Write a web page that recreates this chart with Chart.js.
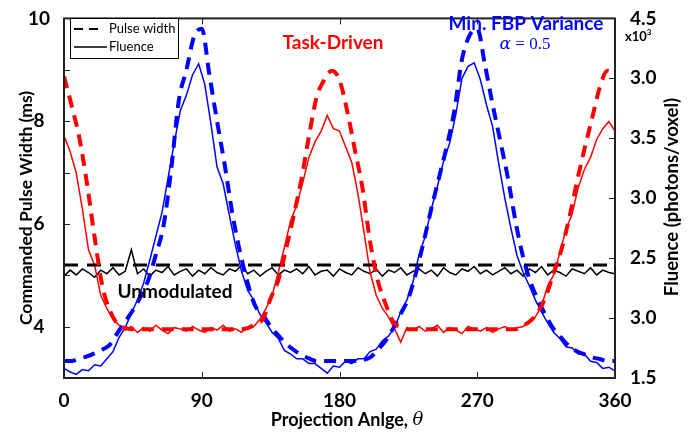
<!DOCTYPE html>
<html>
<head>
<meta charset="utf-8">
<script src="https://cdn.jsdelivr.net/npm/chart.js@4.4.1/dist/chart.umd.min.js"></script>
<style>
  html, body { margin: 0; padding: 0; background: #fff; }
  #wrap { width: 697px; height: 437px; position: relative; }
</style>
</head>
<body>
<div id="wrap"><canvas id="pulseChart"></canvas></div>
<script>
// projection angles (deg)
const anglesPulse = [0,5,10,15,20,25,30,35,40,45,50,55,60,65,70,75,80,85,90,95,100,105,110,115,120,125,130,135,140,145,150,155,160,165,170,175,180,185,190,195,200,205,210,215,220,225,230,235,240,245,250,255,260,265,270,275,280,285,290,295,300,305,310,315,320,325,330,335,340,345,350,355,360];
const anglesFluence = [0,4,8,12,16,20,24,28,32,36,40,44,48,52,56,60,64,68,72,76,80,84,88,92,96,100,104,108,112,116,120,124,128,132,136,140,144,148,152,156,160,164,168,172,176,180,184,188,192,196,200,204,208,212,216,220,224,228,232,236,240,244,248,252,256,260,264,268,272,276,280,284,288,292,296,300,304,308,312,316,320,324,328,332,336,340,344,348,352,356,360];
const anglesUnmod = [0, 360];

// commanded pulse width (ms)
const pulseTaskDriven = [8.87,8.30,7.68,6.79,5.74,4.80,4.31,4.05,3.97,
  3.95,3.95,3.95,3.95,3.95,3.95,3.95,3.95,3.95,3.95,3.95,3.95,3.95,3.95,3.95,
  3.97,4.05,4.15,4.55,4.90,5.50,6.15,6.85,7.70,8.46,8.80,8.98,8.80,8.20,7.45,6.70,5.65,4.90,4.45,4.10,3.98,
  3.95,3.95,3.95,3.95,3.95,3.95,3.95,3.95,3.95,3.95,3.95,3.95,3.95,3.95,3.95,
  4.02,4.12,4.30,4.60,5.05,5.50,6.10,6.80,7.45,8.05,8.65,8.98,8.92];
const pulseMinVar = [3.33,3.33,3.38,3.42,3.48,3.55,3.65,3.88,4.10,4.32,4.58,4.90,5.40,5.96,7.05,8.40,9.00,9.65,9.80,
  8.90,8.00,7.15,6.20,5.45,4.85,4.40,4.23,4.00,3.83,3.67,3.55,3.45,3.38,3.33,3.33,3.33,3.33,3.33,3.33,3.35,
  3.40,3.55,3.72,3.96,4.25,4.55,5.05,5.65,6.30,6.90,7.50,8.20,9.20,9.67,9.80,
  9.10,8.33,7.62,6.90,6.05,5.35,4.85,4.50,4.20,3.95,3.78,3.62,3.52,3.46,3.40,3.37,3.33,3.33];
const pulseUnmod = [5.2, 5.2];

// fluence (x10^3 photons/voxel)
const fluenceTaskDriven = [3.52,3.39,3.21,2.91,2.57,2.44,2.19,2.08,1.99,1.94,
  1.90,1.93,1.88,1.92,1.89,1.94,1.90,1.87,1.92,1.91,1.89,1.93,1.90,1.88,1.92,1.90,1.94,1.89,1.91,1.88,1.92,
  1.93,1.99,2.08,2.19,2.38,2.59,2.81,2.94,3.13,3.34,3.47,3.56,3.69,3.58,3.56,3.43,3.30,3.04,2.72,2.38,2.19,2.08,2.01,1.91,1.80,
  1.92,1.90,1.93,1.89,1.91,1.94,1.88,1.92,1.90,1.87,1.93,1.91,1.89,1.92,1.88,1.91,1.93,1.90,1.92,
  1.93,1.97,2.01,2.10,2.27,2.36,2.55,2.74,2.87,3.09,3.24,3.34,3.49,3.58,3.64,3.56];
const fluenceMinVar = [1.58,1.55,1.53,1.57,1.56,1.61,1.60,1.66,1.72,1.84,1.92,2.04,2.15,2.29,2.48,2.68,2.88,3.17,3.46,3.73,
  3.86,4.03,4.12,3.95,3.62,3.26,3.12,2.86,2.61,2.39,2.23,2.15,2.03,1.96,1.88,1.83,1.73,1.70,1.66,1.66,
  1.62,1.62,1.58,1.54,1.60,1.59,1.64,1.62,1.66,1.66,1.72,1.74,1.81,1.85,1.92,2.05,2.15,2.30,2.53,2.68,
  2.91,3.10,3.31,3.46,3.70,4.00,4.10,4.13,3.99,3.78,3.60,3.29,3.00,2.75,2.52,2.38,2.27,2.15,2.05,1.96,
  1.88,1.83,1.76,1.75,1.70,1.70,1.64,1.63,1.58,1.59,1.56];
const fluenceUnmod = [2.35,2.40,2.36,2.41,2.38,2.34,2.40,2.37,2.42,2.36,
  2.39,2.57,2.37,2.41,2.35,2.40,2.38,2.43,2.36,2.39,
  2.41,2.35,2.40,2.37,2.42,2.38,2.36,2.41,2.39,2.44,
  2.37,2.40,2.35,2.39,2.42,2.36,2.40,2.38,2.41,2.37,
  2.43,2.36,2.39,2.40,2.35,2.41,2.38,2.36,2.42,2.39,
  2.37,2.41,2.35,2.40,2.38,2.42,2.36,2.39,2.41,2.37,
  2.40,2.35,2.42,2.38,2.36,2.41,2.39,2.43,2.37,2.40,
  2.36,2.39,2.42,2.37,2.40,2.35,2.41,2.38,2.43,2.36,
  2.40,2.38,2.35,2.41,2.39,2.37,2.42,2.36,2.40,2.38,2.37];

const xTicks = [0, 90, 180, 270, 360];
const leftTicks = [4, 6, 8, 10];
// right axis labels as printed in the figure, bottom to top
const rightTickLabels = ['1.5', '3.0', '2.5', '3.0', '3.5', '3.0', '4.5'];

const RED = '#ff0000';
const BLUE = '#0000ff';
const FONT = 'Lato, "Open Sans", sans-serif';

const pts = (xs, ys) => xs.map((x, i) => ({ x: x, y: ys[i] }));

function dashed(label, xs, ys, color, width, dash) {
    return {
        label: label, data: pts(xs, ys), yAxisID: 'y',
        borderColor: color, borderWidth: width, borderDash: dash,
        cubicInterpolationMode: 'monotone', pointRadius: 0, fill: false
    };
}
function solid(label, xs, ys, color) {
    return {
        label: label, data: pts(xs, ys), yAxisID: 'y1',
        borderColor: color, borderWidth: 1.5, tension: 0, pointRadius: 0, fill: false
    };
}

// frame, inward ticks, legend and text labels
const decorations = {
    id: 'decorations',
    afterDraw(chart) {
        const ctx = chart.ctx;
        const a = chart.chartArea;
        const sx = chart.scales.x, sy = chart.scales.y, sy1 = chart.scales.y1;
        ctx.save();

        ctx.strokeStyle = '#222';
        ctx.lineWidth = 1;
        ctx.beginPath();
        for (let v = 3; v <= 10; v++) {
            const y = Math.round(sy.getPixelForValue(v)) + 0.5;
            ctx.moveTo(a.left, y); ctx.lineTo(a.left + 6, y);
        }
        for (let i = 0; i < rightTickLabels.length; i++) {
            const y = Math.round(sy1.getPixelForValue(1.5 + i * 0.5)) + 0.5;
            ctx.moveTo(a.right, y); ctx.lineTo(a.right - 6, y);
        }
        xTicks.slice(1, -1).forEach(v => {
            const x = Math.round(sx.getPixelForValue(v)) + 0.5;
            ctx.moveTo(x, a.bottom); ctx.lineTo(x, a.bottom - 6);
            ctx.moveTo(x, a.top); ctx.lineTo(x, a.top + 6);
        });
        ctx.stroke();

        ctx.lineWidth = 2;
        ctx.strokeStyle = '#222';
        ctx.strokeRect(a.left, a.top, a.right - a.left, a.bottom - a.top);

        // legend
        ctx.fillStyle = '#fff';
        ctx.fillRect(70, 18, 108, 40);
        ctx.lineWidth = 1;
        ctx.strokeStyle = '#000';
        ctx.strokeRect(70.5, 18.5, 108, 40);
        ctx.lineWidth = 2;
        ctx.setLineDash([9, 6]);
        ctx.beginPath(); ctx.moveTo(74, 29); ctx.lineTo(104, 29); ctx.stroke();
        ctx.setLineDash([]);
        ctx.lineWidth = 1.5;
        ctx.beginPath(); ctx.moveTo(74, 47); ctx.lineTo(107, 47); ctx.stroke();
        ctx.fillStyle = '#000';
        ctx.font = '13px ' + FONT;
        ctx.textAlign = 'left';
        ctx.textBaseline = 'middle';
        ctx.fillText('Pulse width', 109, 29);
        ctx.fillText('Fluence', 109, 47);

        // curve labels
        ctx.textAlign = 'center';
        ctx.font = 'bold 19px ' + FONT;
        ctx.fillStyle = RED;
        ctx.fillText('Task-Driven', 333, 43);
        ctx.fillStyle = BLUE;
        ctx.fillText('Min. FBP Variance', 526, 24);
        ctx.fillStyle = '#000';
        ctx.fillText('Unmodulated', 175, 292);

        ctx.fillStyle = BLUE;
        ctx.textAlign = 'left';
        ctx.font = 'italic 17px "DejaVu Serif", serif';
        const alphaW = ctx.measureText('\u03b1').width;
        ctx.font = '17px "Liberation Serif", serif';
        const restW = ctx.measureText(' = 0.5').width;
        let ax = 525 - (alphaW + restW) / 2;
        ctx.font = 'italic 17px "DejaVu Serif", serif';
        ctx.fillText('\u03b1', ax, 45);
        ctx.font = '17px "Liberation Serif", serif';
        ctx.fillText(' = 0.5', ax + alphaW, 45);

        // x10^3 multiplier
        ctx.fillStyle = '#000';
        ctx.font = 'bold 13px ' + FONT;
        ctx.fillText('x10', 625, 37);
        const mw = ctx.measureText('x10').width;
        ctx.font = 'bold 8px ' + FONT;
        ctx.fillText('3', 625 + mw, 32);

        // axis titles
        ctx.font = 'bold 17.5px ' + FONT;
        ctx.textAlign = 'center';
        ctx.save();
        ctx.translate(26, 208);
        ctx.rotate(-Math.PI / 2);
        ctx.fillText('Commanded Pulse Width (ms)', 0, 0);
        ctx.restore();
        ctx.font = 'bold 18.5px ' + FONT;
        ctx.save();
        ctx.translate(672, 197);
        ctx.rotate(-Math.PI / 2);
        ctx.fillText('Fluence (photons/voxel)', 0, 0);
        ctx.restore();

        ctx.font = 'bold 18px ' + FONT;
        const t1 = 'Projection Anlge, ';
        const w1 = ctx.measureText(t1).width;
        ctx.font = 'italic 18px "DejaVu Serif", serif';
        const w2 = ctx.measureText('\u03b8').width;
        let bx = 347 - (w1 + w2) / 2;
        ctx.textAlign = 'left';
        ctx.font = 'bold 18px ' + FONT;
        ctx.fillText(t1, bx, 420);
        ctx.font = 'italic 18px "DejaVu Serif", serif';
        ctx.fillText('\u03b8', bx + w1, 420);

        ctx.restore();
    }
};

new Chart(document.getElementById('pulseChart'), {
    type: 'line',
    data: {
        datasets: [
            dashed('Task-Driven pulse width', anglesPulse, pulseTaskDriven, RED, 4, [12, 8]),
            dashed('Min. FBP Variance pulse width', anglesPulse, pulseMinVar, BLUE, 4, [12, 8]),
            dashed('Unmodulated pulse width', anglesUnmod, pulseUnmod, '#000', 3, [14, 9]),
            solid('Task-Driven fluence', anglesFluence, fluenceTaskDriven, RED),
            solid('Min. FBP Variance fluence', anglesFluence, fluenceMinVar, BLUE),
            solid('Unmodulated fluence', anglesFluence, fluenceUnmod, '#000')
        ]
    },
    options: {
        responsive: true,
        maintainAspectRatio: false,
        animation: false,
        layout: { autoPadding: false, padding: { top: 12, left: 0, right: 0, bottom: 0 } },
        plugins: { legend: { display: false }, tooltip: { enabled: false } },
        scales: {
            x: {
                type: 'linear', min: 0, max: 360,
                afterBuildTicks: s => { s.ticks = xTicks.map(v => ({ value: v })); },
                afterFit: s => { s.height = 59; },
                grid: { display: false }, border: { display: false },
                ticks: { color: '#000', font: { family: FONT, size: 19, weight: 'bold' }, padding: 3, maxRotation: 0 }
            },
            y: {
                position: 'left', min: 3, max: 10,
                afterBuildTicks: s => { s.ticks = leftTicks.map(v => ({ value: v })); },
                afterFit: s => { s.width = 64; },
                grid: { display: false }, border: { display: false },
                ticks: { color: '#000', font: { family: FONT, size: 19, weight: 'bold' }, padding: 6, crossAlign: 'center' }
            },
            y1: {
                position: 'right', min: 1.5, max: 4.5,
                afterBuildTicks: s => { s.ticks = rightTickLabels.map((t, i) => ({ value: 1.5 + i * 0.5 })); },
                afterFit: s => { s.width = 82; },
                grid: { display: false }, border: { display: false },
                ticks: { color: '#000', font: { family: FONT, size: 19, weight: 'bold' }, padding: 7,
                    callback: (v, i) => rightTickLabels[i] }
            }
        }
    },
    plugins: [decorations]
});
</script>
</body>
</html>
